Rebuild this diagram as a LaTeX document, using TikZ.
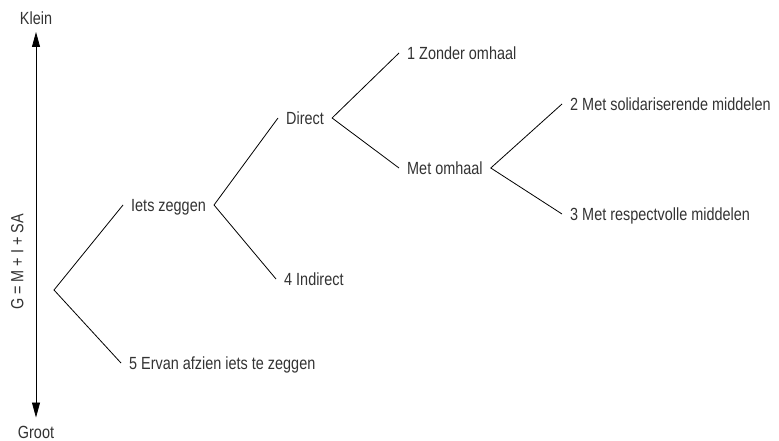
\documentclass[tikz,border=0pt]{standalone}
\usepackage{fontspec}
\setmainfont{Liberation Sans}[FakeStretch=0.82]
\usetikzlibrary{arrows.meta}
\definecolor{txt}{HTML}{333333}
\tikzset{
  lbl/.style={anchor=west, inner xsep=8pt, inner ysep=0pt, text height=12.6pt, text depth=0pt,
              font=\fontsize{17.6pt}{20pt}\selectfont, text=txt},
  axislbl/.style={inner sep=0pt, text height=12.6pt, text depth=0pt,
              font=\fontsize{17.6pt}{20pt}\selectfont, text=txt},
  branch/.style={draw=black, line width=0.8pt},
}
\begin{document}
\begin{tikzpicture}[x=1pt,y=-1pt]
  \useasboundingbox (0,0) rectangle (779,441);

  % scale from small to large
  \node[axislbl, inner ysep=7.5pt] (klein) at (36,18) {Klein};
  \node[axislbl, inner ysep=8pt] (groot) at (36,432) {Groot};
  \draw[line width=0.8pt, {Triangle[length=15pt,width=8pt]}-{Triangle[length=15pt,width=8pt]}]
    (klein.south) -- (groot.north);
  \node[axislbl, rotate=90] (formula) at (17,262) {G = M + I + SA};

  % decision tree
  \coordinate (root) at (54,290);
  \node[lbl] (iets) at (123,205) {Iets zeggen};
  \node[lbl] (ervan) at (121,363) {5 Ervan afzien iets te zeggen};
  \node[lbl] (direct) at (278,118) {Direct};
  \node[lbl] (indirect) at (276,279) {4 Indirect};
  \node[lbl] (zonder) at (399,53) {1 Zonder omhaal};
  \node[lbl] (met) at (399,168) {Met omhaal};
  \node[lbl] (solid) at (562,104) {2 Met solidariserende middelen};
  \node[lbl] (resp) at (562,214) {3 Met respectvolle middelen};

  \draw[branch] (iets.west) -- (root) -- (ervan.west);
  \draw[branch] (direct.west) -- (iets.east) -- (indirect.west);
  \draw[branch] (zonder.west) -- (direct.east) -- (met.west);
  \draw[branch] (solid.west) -- (met.east) -- (resp.west);
\end{tikzpicture}
\end{document}
